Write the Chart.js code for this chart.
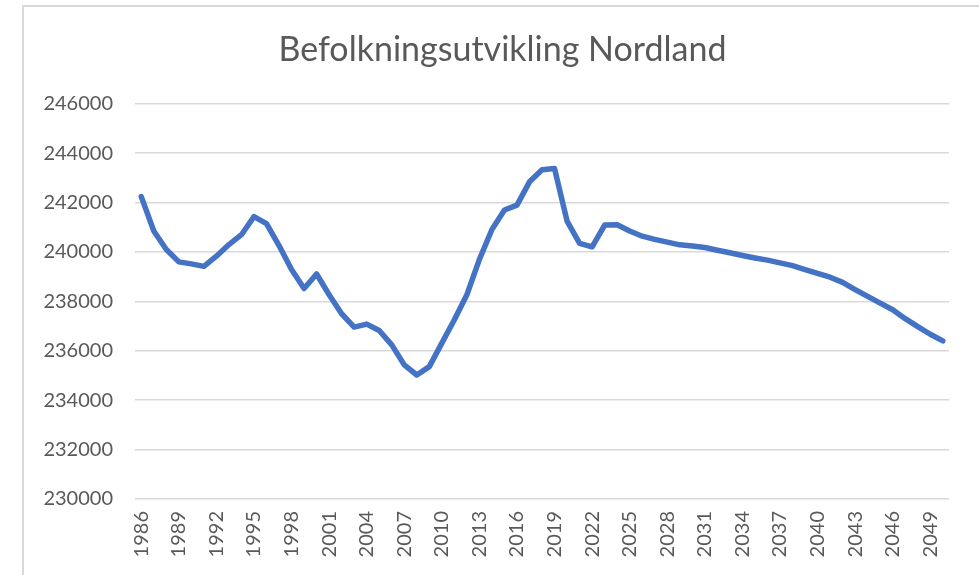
<!DOCTYPE html>
<html lang="no">
<head>
<meta charset="UTF-8">
<title>Befolkningsutvikling Nordland</title>
<script src="https://cdn.jsdelivr.net/npm/chart.js"></script>
<style>
    body {
        margin: 0;
        background: #ffffff;
        width: 979px;
        height: 575px;
        overflow: hidden;
        position: relative;
    }
    .frame {
        position: absolute;
        left: 22px;
        top: 5px;
        width: 980px;
        height: 600px;
        border-left: 2px solid #d9d9d9;
        border-top: 2px solid #d9d9d9;
    }
    #chart {
        position: absolute;
        left: 0;
        top: 0;
    }
</style>
</head>
<body>
<div class="frame"></div>
<canvas id="chart" width="979" height="575"></canvas>

<script>
    // years on the x axis
    const years = [
        1986, 1987, 1988, 1989, 1990, 1991, 1992, 1993, 1994, 1995,
        1996, 1997, 1998, 1999, 2000, 2001, 2002, 2003, 2004, 2005,
        2006, 2007, 2008, 2009, 2010, 2011, 2012, 2013, 2014, 2015,
        2016, 2017, 2018, 2019, 2020, 2021, 2022, 2023, 2024, 2025,
        2026, 2027, 2028, 2029, 2030, 2031, 2032, 2033, 2034, 2035,
        2036, 2037, 2038, 2039, 2040, 2041, 2042, 2043, 2044, 2045,
        2046, 2047, 2048, 2049, 2050
    ];

    // population
    const population = [
        242240, 240850, 240100, 239600, 239520, 239420, 239830, 240300, 240700, 241430,
        241150, 240260, 239290, 238520, 239110, 238270, 237500, 236960, 237080, 236820,
        236240, 235430, 235020, 235360, 236310, 237260, 238270, 239700, 240910, 241700,
        241900, 242840, 243330, 243380, 241250, 240350, 240210, 241090, 241100, 240850,
        240640, 240510, 240400, 240290, 240240, 240180, 240070, 239970, 239860, 239760,
        239670, 239560, 239450, 239290, 239130, 238980, 238770, 238480, 238200, 237930,
        237660, 237300, 236980, 236670, 236400
    ];

    // every third year gets a label
    const shownYears = [
        1986, 1989, 1992, 1995, 1998, 2001, 2004, 2007, 2010, 2013, 2016,
        2019, 2022, 2025, 2028, 2031, 2034, 2037, 2040, 2043, 2046, 2049
    ];

    const grey = '#595959';
    const font = "Lato, 'Liberation Sans', sans-serif";

    // the excel title sits centred over the frame, not the canvas
    const shiftTitle = {
        id: 'shiftTitle',
        afterLayout(chart) {
            if (chart.titleBlock) chart.titleBlock.left = 52;
        }
    };

    new Chart(document.getElementById('chart'), {
        type: 'line',
        data: {
            labels: years,
            datasets: [{
                label: 'Nordland',
                data: population,
                borderColor: '#4472c4',
                borderWidth: 5.5,
                pointRadius: 0,
                tension: 0,
                borderJoinStyle: 'round',
                borderCapStyle: 'round'
            }]
        },
        options: {
            responsive: false,
            animation: false,
            layout: {
                padding: { left: 0, right: 26, top: 0, bottom: 0 }
            },
            plugins: {
                legend: { display: false },
                tooltip: { enabled: false },
                title: {
                    display: true,
                    text: 'Befolkningsutvikling Nordland',
                    color: grey,
                    font: { family: font, size: 34, weight: 'normal' },
                    padding: { top: 30, bottom: 33 }
                }
            },
            scales: {
                x: {
                    offset: true,
                    grid: { display: false, drawTicks: false },
                    border: { display: false },
                    ticks: {
                        autoSkip: false,
                        minRotation: 90,
                        maxRotation: 90,
                        padding: 12,
                        color: grey,
                        font: { family: font, size: 20 },
                        callback: function (value) {
                            const y = this.getLabelForValue(value);
                            return shownYears.includes(y) ? String(y) : '';
                        }
                    },
                    afterFit: function (scale) {
                        scale.height = 76;
                    }
                },
                y: {
                    min: 230000,
                    max: 246000,
                    grid: { color: '#d9d9d9', lineWidth: 1.5, drawTicks: false },
                    border: { display: false },
                    ticks: {
                        stepSize: 2000,
                        padding: 22,
                        color: grey,
                        font: { family: font, size: 20 },
                        callback: function (value) {
                            return String(value);
                        }
                    },
                    afterFit: function (scale) {
                        scale.width = 135;
                    }
                }
            }
        },
        plugins: [shiftTitle]
    });
</script>
</body>
</html>
